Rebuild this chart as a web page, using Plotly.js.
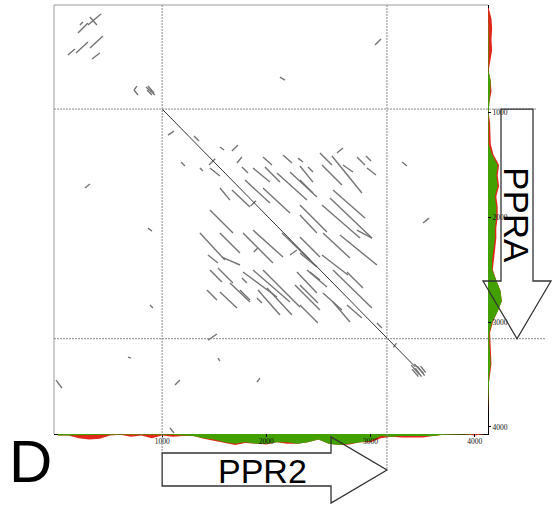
<!DOCTYPE html>
<html><head><meta charset="utf-8">
<script src="https://cdn.plot.ly/plotly-3.0.1.min.js"></script>
<style>html,body{margin:0;padding:0;background:#fff}#chart{width:558px;height:514px}</style>
</head><body><div id="chart"></div>
<script>
// ---- data (sequence positions, bp) ----
const tickVals = [1000, 2000, 3000, 4000];
const tickText = ["1000", "2000", "3000", "4000"];
const ppr2Span = [1000, 3158];      // gene on x
const ppr2HeadStart = 2621;
const ppraSpan = [965, 3158];       // gene on y
const ppraHeadStart = 2607;

const mainHit = [1000, 965, 3430, 3427];

const repeatHits = [
[1670,1366,1728,1308],[1555,1327,1594,1356],[1306,1222,1354,1270],[1056,1213,1114,1175],
[1181,1471,1219,1509],[1363,1528,1392,1557],[1718,1480,1766,1423],[1459,1528,1555,1604],
[1766,1518,1824,1576],[1872,1528,2035,1662],[1968,1423,2054,1499],[1987,1518,2131,1662],
[2160,1404,2246,1480],[2304,1433,2352,1471],[2400,1518,2448,1566],[1555,1719,1651,1834],
[1670,1738,1843,1900],[1795,1643,2035,1862],[1968,1719,2227,1958],[2102,1576,2390,1834],
[2227,1566,2486,1805],[1459,1929,1680,2149],[2678,1385,2736,1337],[2515,1385,2630,1499],
[2630,1413,2918,1767],[2736,1499,2832,1566],[2870,1423,2947,1499],[2957,1413,3005,1461],
[2966,1528,3053,1595],[2534,1499,2726,1690],[2323,1509,2448,1662],[2323,1643,2448,1767],
[2640,1738,2947,2006],[2611,1815,3014,2197],[2534,1881,2899,2197],[2323,1881,2582,2139],
[2323,1977,2486,2149],[1363,2149,1603,2407],[1555,2149,1747,2340],[1440,2359,1536,2435],
[1574,2378,1747,2454],[1776,2149,2064,2435],[1872,2120,2160,2378],[2150,2149,2419,2407],
[2227,2359,2294,2311],[1459,2502,1574,2617],[1536,2483,1680,2626],[1430,2693,1526,2789],
[1555,2712,1718,2865],[1651,2626,1843,2808],[1766,2579,1814,2626],[1776,2521,2102,2760],
[1872,2502,2227,2808],[1968,2502,2323,2855],[1747,2693,1843,2789],[1910,2770,1958,2817],
[1920,2693,2131,2932],[2006,2674,2246,2932],[2294,2521,2486,2722],[2275,2645,2515,2884],
[2419,2521,2515,2598],[2323,2187,2515,2378],[2544,2149,2803,2388],[2707,2168,3062,2454],
[2870,2120,3014,2197],[2323,2340,2486,2473],[2534,2359,2784,2550],[2390,2502,2582,2664],
[2774,2521,2928,2674],[2323,2645,2496,2817],[2640,2502,3014,2865],[2544,2722,2726,2884],
[2640,2808,2803,2999],[2774,2836,2918,2961],[2323,2836,2496,3008],[3062,3008,3110,3056],
[1450,1500,1510,1440],[1850,1890,1900,1840],[1880,2330,1920,2290],
[211,162,240,134],[192,239,288,143],[288,162,413,57],[307,86,374,162],
[96,449,163,392],[173,430,288,325],[307,382,432,267],[326,487,403,430],
[758,745,730,783],[730,783,768,831],[845,754,931,831],[864,745,921,812],[855,783,902,831],
[2131,659,2179,688],[3043,353,3101,296],[259,1719,307,1681],[864,2101,902,2130],
[883,2836,912,2865],[672,3333,701,3343],[-19,3553,38,3629],[1123,3600,1171,3553],
[1440,3171,1526,3113],[1536,3343,1555,3371],[1910,3572,1939,3534],[3302,1471,3350,1509],
[3504,2053,3562,2006],[1075,4011,1114,4059],
[3220,3240,3250,3200],
[3390,3410,3470,3500],[3420,3400,3510,3490],[3400,3450,3460,3520],[3450,3420,3520,3510],
[3430,3440,3490,3520],[3480,3420,3530,3480]
];

// coverage profiles
const xProfPos = [0,100,200,300,400,500,600,700,800,900,1000,1100,1200,1300,1400,1500,1600,1700,1800,1900,2000,2100,2200,2300,2400,2500,2600,2700,2800,2900,3000,3100,3200,3300,3400,3500,3600,3700,3800,3900,4000,4100];
const bottomGreen = [1,1,0.5,0.5,0.5,0.5,0.3,0.3,0.5,0.5, 0.5,0.5,1,1.5,3,4,6,7,6,7, 7,6,6,7,6,4,7,8,7,6, 5,1.5,2,1.5,1.5,2,1.5,0.5,0.3,0.2, 0.2,0];
const bottomRed   = [1,1,3,4,3.5,1,0.5,2,1,3, 1,2,1.5,1.5,3.5,5,7,8,6.5,7, 7.5,6,7,7,6,4,7,8,7.5,6, 6,3,2,2.5,2.5,2.5,1.5,0.5,0.3,0.2, 1,0];
const yProfPos = [0,100,200,300,400,500,600,700,800,900,1000,1100,1200,1300,1400,1500,1600,1700,1800,1900,2000,2100,2200,2300,2400,2500,2600,2700,2800,2900,3000,3100,3200,3300,3400,3500,3600,3700,3800,3900,4000];
const rightGreen = [0,0.3,0.5,0.5,0.5,0.5,0.3,2,1.5,0.5, 0.5,0.5,0.5,0.5,3,7,6,7,5,6, 6,5,5,4,3,3,6,9,10,7, 3,1,1,1.5,2,1,0.5,0.3,0,0, 0];
const rightRed   = [0.5,2.5,3,2.5,3,2,0.5,2,2.5,1, 0.5,1.5,1.5,2,4,8,7,8,6,7, 7,6,6,5,4,3.5,6,9,10,7, 3.5,1.5,2,2,2.5,1.5,0.5,0.3,0,0, 0];

// ---- build ----
const W = 558, H = 514;
const fx = p => p / W, fy = p => 1 - p / H;
const RED = '#e3261a', GREEN = '#42a000';
const X_RANGE = [-38, 4128], Y_RANGE = [4068, -29];

function segXY(list) {
  const xs = [], ys = [];
  list.forEach(s => { xs.push(s[0], s[2], null); ys.push(s[1], s[3], null); });
  return {xs, ys};
}
const rep = segXY(repeatHits);
const mn = segXY([mainHit]);

const traces = [
  {x: xProfPos, y: bottomRed, xaxis: 'x', yaxis: 'y2', mode: 'lines', fill: 'tozeroy',
   line: {width: 0, color: RED}, fillcolor: RED, hoverinfo: 'skip'},
  {x: xProfPos, y: bottomGreen, xaxis: 'x', yaxis: 'y2', mode: 'lines', fill: 'tozeroy',
   line: {width: 0, color: GREEN}, fillcolor: GREEN, hoverinfo: 'skip'},
  {x: rightRed, y: yProfPos, xaxis: 'x2', yaxis: 'y', mode: 'lines', fill: 'tozerox',
   line: {width: 0, color: RED}, fillcolor: RED, hoverinfo: 'skip'},
  {x: rightGreen, y: yProfPos, xaxis: 'x2', yaxis: 'y', mode: 'lines', fill: 'tozerox',
   line: {width: 0, color: GREEN}, fillcolor: GREEN, hoverinfo: 'skip'},
  {x: rep.xs, y: rep.ys, xaxis: 'x', yaxis: 'y', mode: 'lines', connectgaps: false,
   line: {color: '#757575', width: 1.4}},
  {x: mn.xs, y: mn.ys, xaxis: 'x', yaxis: 'y', mode: 'lines',
   line: {color: '#333', width: 1}},
  // empty traces that create the label-carrying overlay axes (drawn above the profiles)
  {x: [], y: [], xaxis: 'x3', yaxis: 'y2', mode: 'lines', hoverinfo: 'skip'},
  {x: [], y: [], xaxis: 'x2', yaxis: 'y3', mode: 'lines', hoverinfo: 'skip'}
];

const dash = {color: '#8a8a8a', width: 1, dash: '2px,1px'};
const arrowLine = {color: '#333', width: 1.3};
const shapes = [
  {type: 'line', xref: 'paper', yref: 'paper', x0: fx(54), x1: fx(488), y0: fy(5), y1: fy(5), line: {color: '#999', width: 1}},
  {type: 'line', xref: 'paper', yref: 'paper', x0: fx(54), x1: fx(54), y0: fy(5), y1: fy(434), line: {color: '#999', width: 1}},
  {type: 'line', xref: 'x', yref: 'paper', x0: ppr2Span[0], x1: ppr2Span[0], y0: fy(5), y1: fy(453), line: dash},
  {type: 'line', xref: 'x', yref: 'paper', x0: ppr2Span[1], x1: ppr2Span[1], y0: fy(5), y1: fy(470), line: dash},
  {type: 'line', xref: 'paper', yref: 'y', x0: fx(54), x1: fx(537), y0: ppraSpan[0], y1: ppraSpan[0], line: dash},
  {type: 'line', xref: 'paper', yref: 'y', x0: fx(54), x1: fx(546), y0: ppraSpan[1], y1: ppraSpan[1], line: dash},
  {type: 'path', xref: 'x', yref: 'paper', line: arrowLine, fillcolor: 'rgba(0,0,0,0)',
   path: `M ${ppr2Span[0]},${fy(453)} L ${ppr2HeadStart},${fy(453)} L ${ppr2HeadStart},${fy(437)} L ${ppr2Span[1]},${fy(470)} L ${ppr2HeadStart},${fy(503)} L ${ppr2HeadStart},${fy(486)} L ${ppr2Span[0]},${fy(486)} Z`},
  {type: 'path', xref: 'paper', yref: 'y', line: arrowLine, fillcolor: 'rgba(0,0,0,0)',
   path: `M ${fx(501)},${ppraSpan[0]} L ${fx(533)},${ppraSpan[0]} L ${fx(533)},${ppraHeadStart} L ${fx(551)},${ppraHeadStart} L ${fx(517)},${ppraSpan[1]} L ${fx(483)},${ppraHeadStart} L ${fx(501)},${ppraHeadStart} Z`}
];

const annotations = [
  {text: 'PPR2', xref: 'x', yref: 'paper', x: 1960, y: fy(471), xanchor: 'center', yanchor: 'middle', showarrow: false,
   font: {family: 'Liberation Sans, Arial', size: 34, color: '#000'}},
  {text: 'PPRA', xref: 'paper', yref: 'y', x: fx(517), y: 1977, xanchor: 'center', yanchor: 'middle', showarrow: false, textangle: 90,
   font: {family: 'Liberation Sans, Arial', size: 35, color: '#000'}},
  {text: 'D', xref: 'paper', yref: 'paper', x: fx(30), y: fy(461), xanchor: 'center', yanchor: 'middle', showarrow: false,
   font: {family: 'Liberation Sans, Arial', size: 60, color: '#000'}}
];

const tickFont = {family: 'Liberation Serif, serif', size: 7.5, color: '#111'};
const layout = {
  width: W, height: H, margin: {l: 0, r: 0, t: 0, b: 0},
  paper_bgcolor: '#fff', plot_bgcolor: 'rgba(0,0,0,0)', showlegend: false,
  xaxis: {domain: [fx(54), fx(488)], range: X_RANGE, anchor: 'y', showline: true, linecolor: '#000', linewidth: 1,
          ticks: '', showticklabels: false, showgrid: false, zeroline: false},
  yaxis: {domain: [fy(434), fy(5)], range: Y_RANGE, anchor: 'x', side: 'right', showline: true, linecolor: '#000', linewidth: 1,
          ticks: '', showticklabels: false, showgrid: false, zeroline: false},
  xaxis2: {domain: [fx(488), fx(506)], range: [0, 13], anchor: 'y', visible: false},
  yaxis2: {domain: [fy(452), fy(434)], range: [13, 0], anchor: 'x', visible: false},
  // label axes: overlay the main axes, drawn above the coverage profiles
  xaxis3: {overlaying: 'x', range: X_RANGE, anchor: 'y2', side: 'top', ticklabelposition: 'inside',
           ticks: 'inside', ticklen: 3, tickcolor: '#000', tickvals: tickVals, ticktext: tickText, tickfont: tickFont,
           showline: false, showgrid: false, zeroline: false},
  yaxis3: {overlaying: 'y', range: Y_RANGE, anchor: 'x2', side: 'left', ticklabelposition: 'inside',
           ticks: 'inside', ticklen: 3, tickcolor: '#000', tickvals: tickVals, ticktext: tickText, tickfont: tickFont,
           showline: false, showgrid: false, zeroline: false},
  shapes, annotations
};
Plotly.newPlot('chart', traces, layout, {staticPlot: true, displayModeBar: false});
</script></body></html>
